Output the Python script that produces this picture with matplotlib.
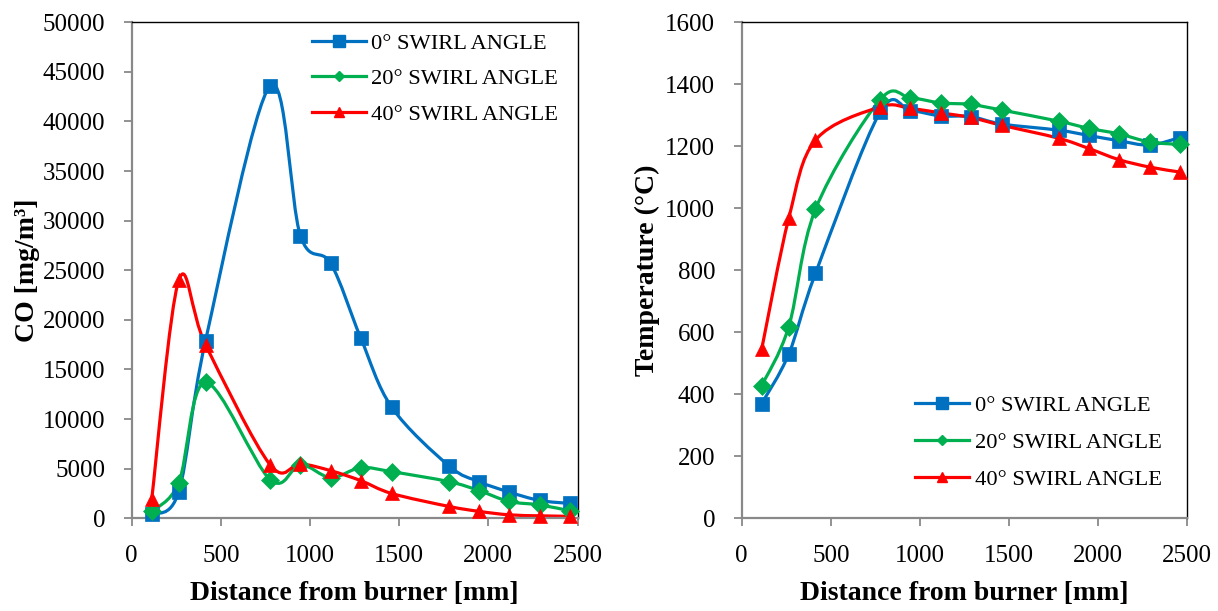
import numpy as np
import matplotlib
matplotlib.use("Agg")
import matplotlib.pyplot as plt
from matplotlib.path import Path
from matplotlib.patches import PathPatch
from matplotlib.lines import Line2D

plt.rcParams['font.family'] = ['Liberation Serif', 'DejaVu Serif']

# ---------------- data ----------------
distance = [112, 264, 414, 776, 946, 1116, 1284, 1458, 1778, 1947, 2116, 2288, 2458]

co_0 = [400, 2700, 17900, 43600, 28500, 25700, 18200, 11200, 5300, 3700, 2650, 1800, 1500]
co_20 = [700, 3600, 13700, 3900, 5400, 4100, 5100, 4700, 3700, 2800, 1700, 1350, 750]
co_40 = [1900, 24000, 17500, 5400, 5500, 4800, 3800, 2500, 1200, 700, 350, 250, 200]

temp_0 = [370, 530, 790, 1310, 1315, 1298, 1296, 1272, 1252, 1235, 1218, 1204, 1228]
temp_20 = [428, 618, 997, 1350, 1356, 1340, 1335, 1317, 1281, 1258, 1240, 1214, 1206]
temp_40 = [545, 968, 1220, 1327, 1322, 1308, 1293, 1268, 1226, 1193, 1157, 1133, 1117]

series_labels = ["0° SWIRL ANGLE", "20° SWIRL ANGLE", "40° SWIRL ANGLE"]
colors = ["#0070C0", "#00B050", "#FF0000"]
markers = ["s", "D", "^"]
msizes = [10.5, 9, 10.5]
leg_msizes = [8.5, 5.5, 7.5]

co_ticks = list(range(0, 50001, 5000))
temp_ticks = list(range(0, 1601, 200))
x_ticks = list(range(0, 2501, 500))


def smooth_path(x, y):
    """Catmull-Rom style cubic Bezier through the data points (Excel smoothed line)."""
    x = np.asarray(x, float)
    y = np.asarray(y, float)
    n = len(x)
    verts = [(x[0], y[0])]
    codes = [Path.MOVETO]
    for i in range(n - 1):
        i0 = max(i - 1, 0)
        i3 = min(i + 2, n - 1)
        c1 = (x[i] + (x[i + 1] - x[i0]) / 6.0, y[i] + (y[i + 1] - y[i0]) / 6.0)
        c2 = (x[i + 1] - (x[i3] - x[i]) / 6.0, y[i + 1] - (y[i3] - y[i]) / 6.0)
        verts += [c1, c2, (x[i + 1], y[i + 1])]
        codes += [Path.CURVE4] * 3
    return Path(verts, codes)


W, H = 1218, 611
fig = plt.figure(figsize=(W / 100, H / 100), dpi=100)

ax_pos = [
    [131.7 / W, 1 - 518.3 / H, 445.8 / W, 496.0 / H],
    [741.7 / W, 1 - 518.3 / H, 445.6 / W, 496.0 / H],
]

gray = "#898989"


def style_axes(ax, yticks, ylim):
    ax.set_xlim(0, 2500)
    ax.set_ylim(*ylim)
    ax.set_xticks(x_ticks)
    ax.set_yticks(yticks)
    for s in ["left", "bottom"]:
        ax.spines[s].set_color(gray)
        ax.spines[s].set_linewidth(1.6)
    for s in ["top", "right"]:
        ax.spines[s].set_color("black")
        ax.spines[s].set_linewidth(1.0)
    ax.tick_params(axis="both", direction="out", length=6, width=1.3, color=gray,
                   labelsize=18)
    ax.tick_params(axis="y", pad=13)
    ax.tick_params(axis="x", pad=13)
    ax.set_xlabel("Distance from burner [mm]", fontsize=20, fontweight="bold", labelpad=10)


def draw_series(ax, ys_list):
    for ys, c, m, ms in zip(ys_list, colors, markers, msizes):
        patch = PathPatch(smooth_path(distance, ys), facecolor="none", edgecolor=c,
                          linewidth=2.3, transform=ax.transData, zorder=2, capstyle="round")
        ax.add_patch(patch)
        ax.plot(distance, ys, linestyle="none", marker=m, markersize=ms, color=c,
                markeredgecolor=c, markeredgewidth=0.5, zorder=3, clip_on=False)


def legend_handles():
    return [Line2D([0], [0], color=c, linewidth=2.3, marker=m, markersize=lm,
                   markeredgecolor=c)
            for c, m, lm in zip(colors, markers, leg_msizes)]


# ---- left: CO ----
ax1 = fig.add_axes(ax_pos[0])
style_axes(ax1, co_ticks, (0, 50000))
draw_series(ax1, [co_0, co_20, co_40])
ax1.set_ylabel("CO [mg/m³]", fontsize=20, fontweight="bold", labelpad=2)
ax1.legend(legend_handles(), series_labels, loc="upper left",
           bbox_to_anchor=(0.404, 0.978), frameon=False, fontsize=16.2,
           handlelength=2.4, handletextpad=0.25, labelspacing=0.65,
           borderpad=0, borderaxespad=0)

# ---- right: Temperature ----
ax2 = fig.add_axes(ax_pos[1])
style_axes(ax2, temp_ticks, (0, 1600))
draw_series(ax2, [temp_0, temp_20, temp_40])
ax2.set_ylabel("Temperature (°C)", fontsize=20, fontweight="bold", labelpad=4)
ax2.legend(legend_handles(), series_labels, loc="upper left",
           bbox_to_anchor=(0.389, 0.248), frameon=False, fontsize=16.2,
           handlelength=2.4, handletextpad=0.25, labelspacing=0.72,
           borderpad=0, borderaxespad=0)

fig.savefig("out.png", dpi=100)
